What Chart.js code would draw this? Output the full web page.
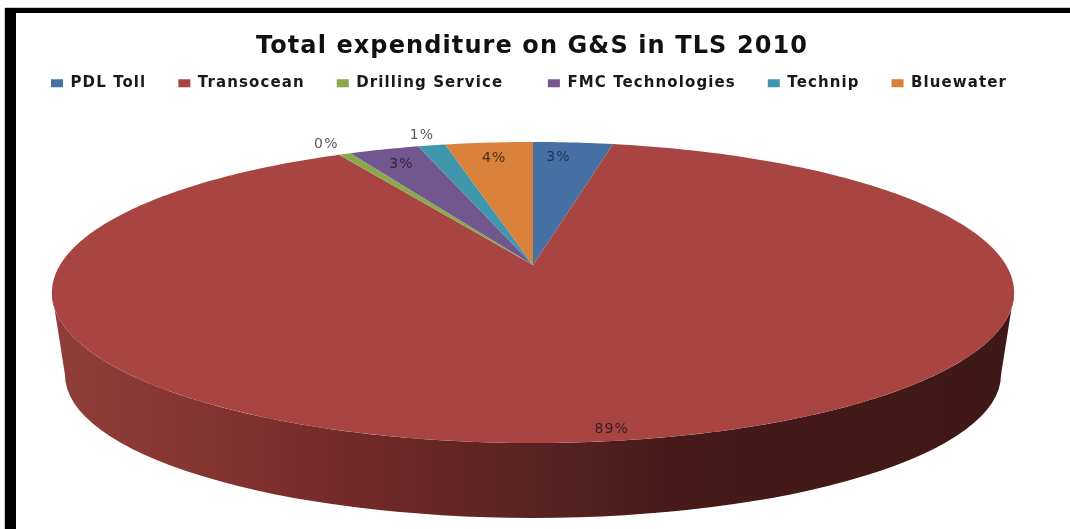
<!DOCTYPE html>
<html>
<head>
<meta charset="utf-8">
<script src="https://cdn.jsdelivr.net/npm/chart.js"></script>
<style>
html, body { margin: 0; padding: 0; background: #fff; overflow: hidden; }
#wrap { position: absolute; left: 0; top: 0; width: 1070px; height: 529px; }
#chart { filter: blur(0.5px); }
.edge { position: absolute; background: #000; }
#edgeTop { left: 5px; top: 8px; width: 1065px; height: 5px; box-shadow: 0 -1px 0 #ccc; }
#edgeLeft { left: 5px; top: 8px; width: 11px; height: 521px; box-shadow: -1px 0 0 #ccc; }
</style>
</head>
<body>
<div id="wrap">
    <canvas id="chart" width="1070" height="529"></canvas>
    <div class="edge" id="edgeTop"></div>
    <div class="edge" id="edgeLeft"></div>
</div>
<script>
const titleText = 'Total expenditure on G&S in TLS 2010'
const companies = ['PDL Toll', 'Transocean', 'Drilling Service', 'FMC Technologies', 'Technip', 'Bluewater']
const shares = [3.2, 88.9, 0.49, 2.8, 1.1, 3.51]
const sliceColors = ['#4470a4', '#a84543', '#8aa84d', '#72578f', '#3f96ad', '#d9803b']
const labelColors = ['#1d3552', '#3a1a22', '#595959', '#2f2440', '#595959', '#4a3018']

// the perspective of the tilted disc, apex is where the slices meet
const view = { x: 533, y: 265, a: 473, b: 145.5, k: 0.1827 }
// rim of the disc, lower edge
const base = { x: 533, y: 375, rx: 468, ry: 143 }
const wallStops = [
    [0, '#8f3e39'], [0.1, '#8a3835'], [0.25, '#7a2e2c'], [0.4, '#672624'],
    [0.5, '#5a2421'], [0.65, '#451a18'], [1, '#3f1917']
]

function project(angle, r) {
    const u = r * Math.cos(angle)
    const v = r * Math.sin(angle)
    const w = 1 - view.k * v
    return { x: view.x + view.a * u / w, y: view.y + view.b * v / w }
}

function drawWall(ctx) {
    const gradient = ctx.createLinearGradient(52, 0, 1014, 0)
    wallStops.forEach(s => gradient.addColorStop(s[0], s[1]))
    ctx.beginPath()
    // from the widest point on the right round the front to the widest on the left
    for (let i = 0; i <= 200; i++) {
        const p = project((Math.PI - 0.36) * i / 200 + 0.18, 1)
        i === 0 ? ctx.moveTo(p.x, p.y) : ctx.lineTo(p.x, p.y)
    }
    ctx.ellipse(base.x, base.y, base.rx, base.ry, 0, Math.PI, 0, true)
    ctx.closePath()
    ctx.fillStyle = gradient
    ctx.fill()
}

function labelRadius(share) {
    if (share < 1.5) return 1.115
    if (share > 50) return 0.94
    return 0.865
}

const tiltedPie = {
    id: 'tiltedPie',
    beforeUpdate(chart) {
        // the reference text is stretched sideways
        chart.ctx.letterSpacing = '1.1px'
    },
    afterLayout(chart) {
        chart.legend.left = 19
        chart.legend.top -= 17
    },
    beforeDatasetDraw(chart, args) {
        const ctx = chart.ctx
        const arcs = args.meta.data
        ctx.save()
        drawWall(ctx)
        arcs.forEach((arc, i) => {
            const steps = Math.max(2, Math.ceil((arc.endAngle - arc.startAngle) * 60))
            ctx.beginPath()
            ctx.moveTo(view.x, view.y)
            for (let s = 0; s <= steps; s++) {
                const p = project(arc.startAngle + (arc.endAngle - arc.startAngle) * s / steps, 1)
                ctx.lineTo(p.x, p.y)
            }
            ctx.closePath()
            ctx.fillStyle = sliceColors[i]
            ctx.fill()
        })
        ctx.font = '14px "DejaVu Sans"'
        ctx.textAlign = 'center'
        ctx.textBaseline = 'middle'
        arcs.forEach((arc, i) => {
            const mid = (arc.startAngle + arc.endAngle) / 2
            const p = project(mid, labelRadius(shares[i]))
            ctx.fillStyle = labelColors[i]
            // first label sits nearer the apex line in the reference
            ctx.fillText(Math.round(shares[i]) + '%', i === 0 ? p.x - 10 : p.x, p.y + 1)
        })
        ctx.restore()
        return false
    }
}

new Chart(document.getElementById('chart'), {
    type: 'pie',
    data: {
        labels: companies,
        datasets: [{ data: shares, backgroundColor: sliceColors, borderWidth: 0 }]
    },
    options: {
        responsive: false,
        animation: false,
        layout: { padding: { top: 32, left: 0, right: 6 } },
        plugins: {
            tooltip: { enabled: false },
            title: {
                display: true,
                text: titleText,
                color: '#111',
                font: { family: '"DejaVu Sans"', size: 24, weight: 'bold' },
                padding: { top: 0, bottom: 0 }
            },
            legend: {
                position: 'top',
                align: 'start',
                labels: {
                    boxWidth: 12,
                    boxHeight: 8,
                    padding: 32,
                    color: '#1a1a1a',
                    font: { family: '"DejaVu Sans"', size: 15, weight: 'bold' },
                    generateLabels(chart) {
                        const items = Chart.overrides.pie.plugins.legend.labels.generateLabels(chart)
                        // wider gap after this entry in the reference
                        items[2].text += '\u00a0\u00a0'
                        return items
                    }
                }
            }
        }
    },
    plugins: [tiltedPie]
})
</script>
</body>
</html>
